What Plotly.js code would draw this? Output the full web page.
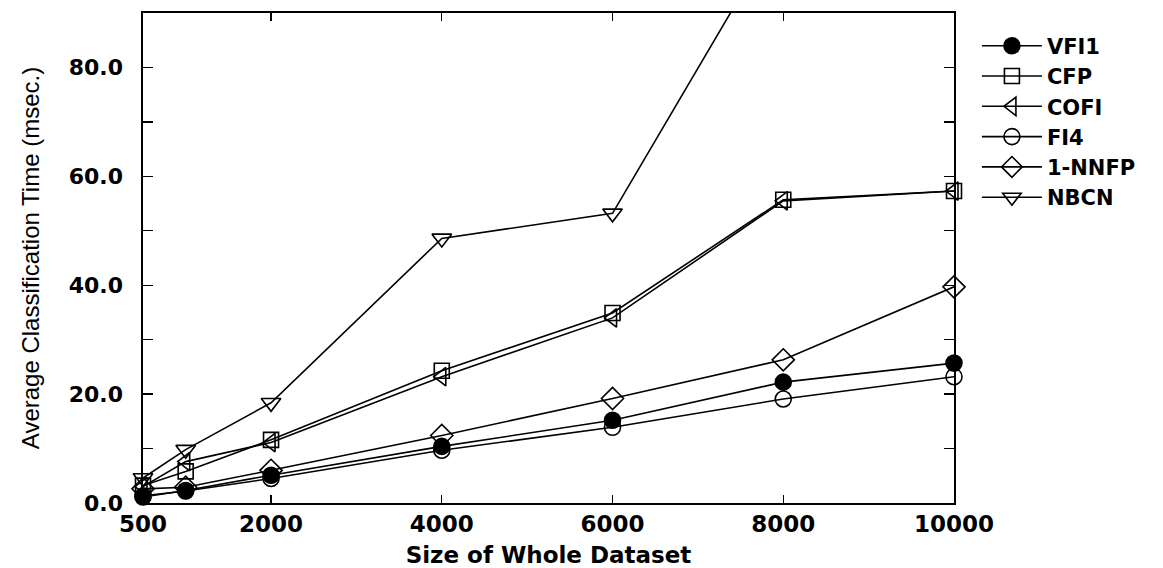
<!DOCTYPE html>
<html>
<head>
<meta charset="utf-8">
<script src="https://cdn.plot.ly/plotly-3.0.1.min.js"></script>
<style>
  html, body { margin: 0; padding: 0; background: #ffffff; }
  #chart { width: 1163px; height: 568px; }
</style>
</head>
<body>
<div id="chart"></div>
<script>
// Dataset sizes (x)
const sizes = [500, 1000, 2000, 4000, 6000, 8000, 10000];
const sizesNBCN = [500, 1000, 2000, 4000, 6000, 8000];

// Average classification time (msec.)
const vfi1  = [1.1, 2.3, 5.1, 10.4, 15.2, 22.2, 25.7];
const cfp   = [3.2, 5.8, 11.6, 24.3, 34.9, 55.7, 57.3];
const cofi  = [3.0, 7.6, 11.1, 23.2, 34.0, 55.5, 57.3];
const fi4   = [1.3, 2.2, 4.5, 9.7, 13.9, 19.1, 23.2];
const nnfp  = [2.6, 2.9, 6.0, 12.4, 19.2, 26.3, 39.7];
const nbcn  = [4.6, 9.8, 18.4, 48.6, 53.2, 106.5];

const seriesNames = ["VFI1", "CFP", "COFI", "FI4", "1-NNFP", "NBCN"];

const xTickVals = [500, 2000, 4000, 6000, 8000, 10000];
const xTickText = ["500", "2000", "4000", "6000", "8000", "10000"];
const yTickVals = [0, 10, 20, 30, 40, 50, 60, 70, 80];
const yTickText = ["0.0", "", "20.0", "", "40.0", "", "60.0", "", "80.0"];

const styles = [
  {symbol: "circle", size: 16, color: "#000"},
  {symbol: "square-open", size: 15, color: "#000"},
  {symbol: "triangle-left-open", size: 16, color: "#000"},
  {symbol: "circle-open", size: 16, color: "#000"},
  {symbol: "diamond-open", size: 17, color: "#000"},
  {symbol: "triangle-down-open", size: 17, color: "#000"}
];
const ys = [vfi1, cfp, cofi, fi4, nnfp, nbcn];
const xs = [sizes, sizes, sizes, sizes, sizes, sizesNBCN];

const traces = ys.map((y, i) => ({
  type: "scatter",
  mode: "lines+markers",
  name: seriesNames[i],
  x: xs[i],
  y: y,
  cliponaxis: false,
  line: {color: "#000", width: 1.6},
  marker: {
    symbol: styles[i].symbol,
    size: styles[i].size,
    color: styles[i].color,
    line: {color: "#000", width: 1.6}
  }
}));

const FAM = "DejaVu Sans, Liberation Sans, Arial, sans-serif";
const tickFont = {family: FAM, size: 23, color: "#000", weight: "bold"};

const layout = {
  width: 1163,
  height: 568,
  paper_bgcolor: "#fff",
  plot_bgcolor: "#fff",
  margin: {l: 143, r: 209, t: 13, b: 65, pad: 0},
  showlegend: true,
  legend: {
    xref: "container", yref: "container",
    x: 0.84, y: 0.955, xanchor: "left", yanchor: "top",
    font: {family: FAM, size: 21, color: "#000", weight: "bold"},
    itemwidth: 60,
    tracegroupgap: 0,
    bgcolor: "rgba(0,0,0,0)",
    borderwidth: 0
  },
  xaxis: {
    range: [500, 10000],
    tickmode: "array",
    tickvals: xTickVals,
    ticktext: xTickText,
    ticks: "inside",
    ticklen: 8,
    tickwidth: 1.3,
    tickcolor: "#000",
    showline: true,
    linecolor: "#000",
    linewidth: 1.6,
    mirror: "ticks",
    showgrid: false,
    zeroline: false,
    tickfont: tickFont,
    ticklabelstandoff: 0,
    title: {text: "Size of Whole Dataset", font: {family: FAM, size: 23, color: "#000", weight: "bold"}, standoff: 10}
  },
  yaxis: {
    range: [0, 90],
    tickmode: "array",
    tickvals: yTickVals,
    ticktext: yTickText,
    ticks: "inside",
    ticklen: 10,
    tickwidth: 1.3,
    tickcolor: "#000",
    showline: true,
    linecolor: "#000",
    linewidth: 1.6,
    mirror: "ticks",
    showgrid: false,
    zeroline: false,
    tickfont: {family: FAM, size: 22, color: "#000", weight: "bold"},
    ticklabelstandoff: 14,
    title: {text: "Average Classification Time (msec.)", font: {family: "Liberation Sans, Arial, sans-serif", size: 24, color: "#000"}, standoff: 22}
  }
};

Plotly.newPlot("chart", traces, layout, {displayModeBar: false, staticPlot: true});
</script>
</body>
</html>
